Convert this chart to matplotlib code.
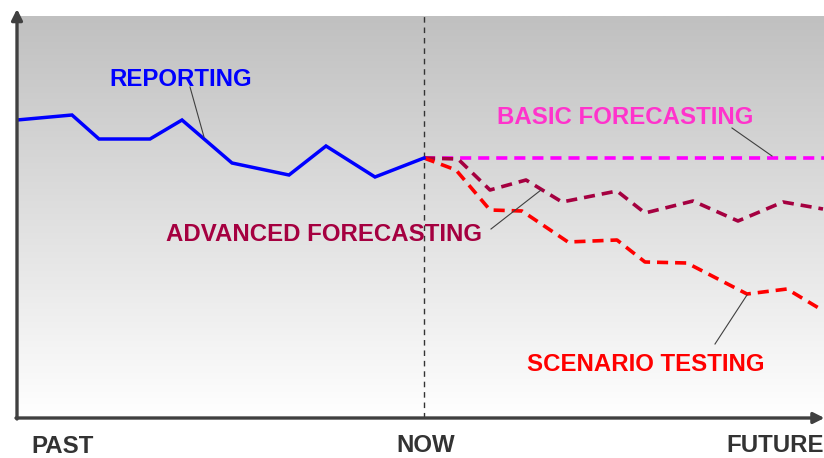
import numpy as np
import matplotlib.pyplot as plt
from matplotlib.colors import LinearSegmentedColormap

plt.rcParams['font.family'] = ['Liberation Sans', 'DejaVu Sans']
plt.rcParams['lines.scale_dashes'] = False

# time axis units, value units (origin at the axes corner)
NOW_X = 407
X_MAX = 807
Y_MAX = 402

report_x = [0, 55, 82, 133, 165, 215, 272, 309, 358, 407]
report_y = [298, 303, 279, 279, 298, 255, 243, 272, 241, 260]

basic_x = [407, 807]
basic_y = [260, 260]

advanced_x = [407, 441, 473, 509, 545, 600, 628, 676, 721, 766, 806]
advanced_y = [260, 259, 228, 238, 216, 227, 205, 217, 197, 216, 209]

scenario_x = [407, 439, 473, 505, 551, 600, 628, 670, 730, 770, 805]
scenario_y = [260, 248, 208, 207, 176, 178, 156, 155, 124, 129, 108]

time_labels = ['PAST', 'NOW', 'FUTURE']
time_label_x = [45.5, 409, 758]
time_label_y = [-35, -34, -34]

AXIS_COL = '#404040'
LEADER_COL = '#404040'
FS = 17.3

fig = plt.figure(figsize=(8.24, 4.58), dpi=100)
ax = fig.add_axes([17 / 824, 40 / 458, 807 / 824, 402 / 458])
ax.set_xlim(0, X_MAX)
ax.set_ylim(0, Y_MAX)
ax.axis('off')

# grey-to-white background
grad = np.linspace(1, 0, 256).reshape(-1, 1)
cmap = LinearSegmentedColormap.from_list('bg', ['#ffffff', '#c0c0c0'])
ax.imshow(grad, extent=[0, X_MAX, 0, Y_MAX], aspect='auto', cmap=cmap,
          vmin=0, vmax=1, zorder=0)

# axes with arrow heads
arrow = dict(arrowstyle='-|>', lw=2.4, color=AXIS_COL, mutation_scale=16,
             shrinkA=0, shrinkB=0)
ax.annotate('', xy=(0, 409), xytext=(0, -1), arrowprops=arrow,
            annotation_clip=False, zorder=6)
ax.annotate('', xy=(X_MAX + 0.5, 0), xytext=(-1, 0), arrowprops=arrow,
            annotation_clip=False, zorder=6)

# "now" divider
ax.plot([NOW_X, NOW_X], [0, Y_MAX], color='#333333', lw=1.0,
        dashes=(4, 3.5), zorder=2)

ax.plot(basic_x, basic_y, color='#ff00ff', lw=2.6, dashes=(8, 5), zorder=3)
ax.plot(advanced_x, advanced_y, color='#a50040', lw=2.6, dashes=(8, 5),
        zorder=3)
ax.plot(scenario_x, scenario_y, color='#ff0000', lw=2.6, dashes=(8, 5),
        zorder=3)
ax.plot(report_x, report_y, color='#0000ff', lw=2.5, zorder=4,
        solid_joinstyle='miter')

# series labels with leader lines
labels = [
    ('REPORTING', '#0000ff', (163.5, 332), (173, 331), (187, 281)),
    ('BASIC FORECASTING', '#ff33cc', (608.5, 294), (715, 290), (755, 262)),
    ('ADVANCED FORECASTING', '#a50040', (307, 177), (474, 189), (524, 228)),
    ('SCENARIO TESTING', '#ff0000', (629, 47), (698, 74), (730, 123)),
]
for text, col, pos, p0, p1 in labels:
    ax.text(pos[0], pos[1], text, color=col, fontsize=FS, fontweight='bold',
            ha='center', va='baseline', zorder=5)
    ax.plot([p0[0], p1[0]], [p0[1], p1[1]], color=LEADER_COL, lw=0.8, zorder=5)

for t, x, y in zip(time_labels, time_label_x, time_label_y):
    ax.text(x, y, t, color='#333333', fontsize=FS, fontweight='bold',
            ha='center', va='baseline', clip_on=False)

fig.savefig('out.png', dpi=100)
